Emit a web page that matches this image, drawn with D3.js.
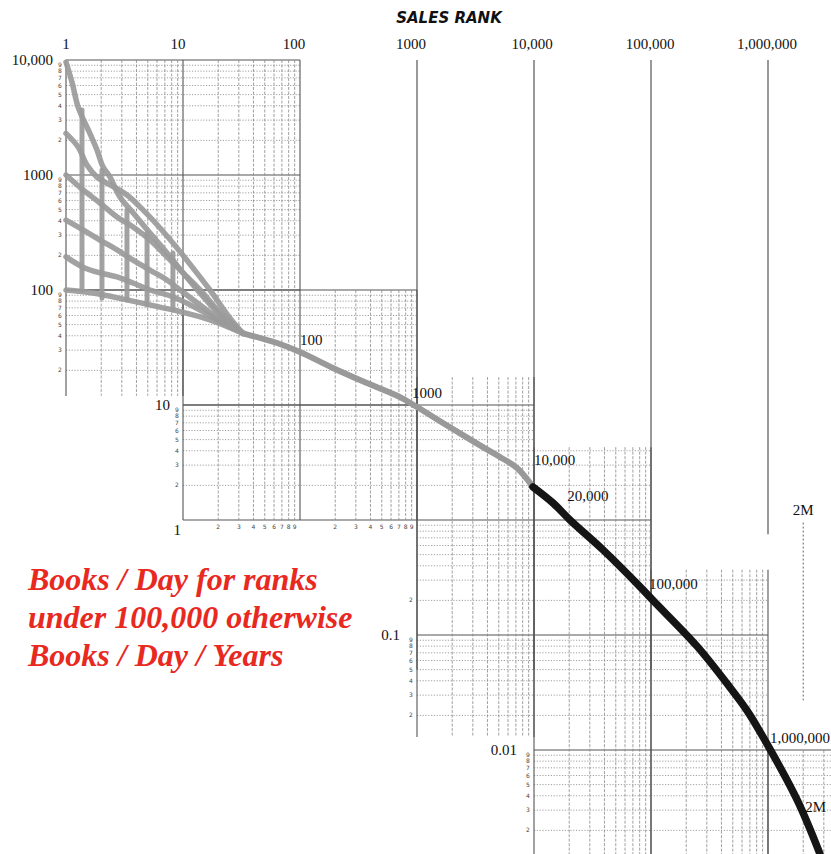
<!DOCTYPE html>
<html><head><meta charset="utf-8">
<script src="https://cdn.jsdelivr.net/npm/d3@7"></script>
<style>body{margin:0;background:#fff}svg{display:block}</style>
</head><body>
<svg id="c" width="831" height="854"></svg>
<script>
// ---------------- DATA ----------------
const topAxisRanks  = [1, 10, 100, 1000, 10000, 100000, 1000000];
const topAxisLabels = ["1", "10", "100", "1000", "10,000", "100,000", "1,000,000"];
const yAxisValues   = [10000, 1000, 100, 10, 1, 0.1, 0.01];
const yAxisLabels   = ["10,000", "1000", "100", "10", "1", "0.1", "0.01"];

// fan of curves for the top ranks: [sales rank, books per day]
const fan1 = [[1,9600],[1.13,6300],[1.27,3900],[1.6,2300],[1.84,1650],[2.07,1180],[2.38,960],[2.89,645],[3.74,470],[5.22,313],[7.3,210],[10,141],[14,94],[20.7,61],[32.6,42]];
const fan2 = [[1,2300],[1.27,1750],[1.51,1220],[1.84,960],[2.38,820],[3.32,670],[4.55,497],[6.36,346],[8.89,232],[12.2,155],[17,100],[25.2,57],[32.6,42]];
const fan3 = [[1,1000],[1.4,741],[1.95,571],[2.73,432],[3.74,353],[5.22,272],[7.3,194],[10,141],[14,100],[20.7,64],[32.6,42]];
const fan4 = [[1,406],[1.4,333],[1.95,272],[2.73,223],[3.74,182],[5.22,149],[7.3,122],[9.43,100],[14,74],[20.7,55],[32.6,42]];
const fan5 = [[1,194],[1.4,158],[1.95,141],[2.73,130],[3.74,115],[5.22,100],[8.22,87],[14,67],[20.7,53],[32.6,42]];
const fan6 = [[1,100],[1.7,94],[3.32,82],[6.36,71],[10,64],[17,55],[32.6,42]];
// vertical connectors in the fan: [rank, top value, bottom value]
const fanConnectors = [[1.37,3670,100],[2.03,1100,85],[3.32,497,82],[4.93,313,74],[8.2,210,67]];

// main curve: [sales rank, books per day]
const mainCurve = [[32.6,42],[63.6,34.6],[100,28.9],[191,21],[374,15.5],[716,11.7],[1000,9.6],[1914,6.4],[3664,4.3],[5120,3.53],[7161,2.83],[9800,1.94],[14500,1.41],[20300,1.0],[38900,0.55],[75900,0.28],[104000,0.2],[247000,0.08],[473000,0.035],[662000,0.022],[906000,0.013],[1770000,0.0037],[2780000,0.00125]];
const darkFromRank = 9800;

const curveLabelRanks = [100, 1000, 10000, 20000, 100000, 1000000, 2000000];
const curveLabels     = ["100", "1000", "10,000", "20,000", "100,000", "1,000,000", "2M"];

// pieces of log graph paper: rank range and value range
const paperX = [[1,100],[1,10],[10,1000],[10,1000],[1000,10000],[10000,100000],[100000,1000000],[1000000,10000000]];
const paperY = [[100,10000],[12,100],[10,100],[1,10],[0.013,17.5],[0.001,4.3],[0.001,0.37],[0.001,0.01]];
const tallRanks = [1000, 10000, 100000, 1000000];
const guideRank = 2000000, guideRange = [0.95, 0.027];

const noteLines = ["Books / Day for ranks", "under 100,000 otherwise", "Books / Day / Years"];
const title = "SALES RANK";

// ---------------- DRAW ----------------
const svg = d3.select("#c");
const x = d3.scaleLog().domain([1, 1e7]).range([66, 66 + 7 * 117]);
const y = d3.scaleLog().domain([1e4, 1e-3]).range([60, 60 + 7 * 115]);

const gGrid = svg.append("g");
function valuesIn(lo, hi) {
  const out = [];
  for (let k = -4; k <= 7; k++) for (let m = 1; m <= 9; m++) {
    const v = m * Math.pow(10, k);
    if (v >= lo * 0.9999 && v <= hi * 1.0001) out.push({v, m, major: m === 1});
  }
  return out;
}
paperX.forEach((xr, i) => {
  const yr = paperY[i];
  valuesIn(yr[0], yr[1]).forEach(d => {
    gGrid.append("line").attr("x1", x(xr[0])).attr("x2", x(xr[1]))
      .attr("y1", y(d.v)).attr("y2", y(d.v))
      .attr("stroke", d.major ? "#555" : "#888").attr("stroke-width", d.major ? 1.1 : 0.8)
      .attr("stroke-dasharray", d.major ? null : "1.2,1.6");
  });
  valuesIn(xr[0], xr[1]).forEach(d => {
    gGrid.append("line").attr("x1", x(d.v)).attr("x2", x(d.v))
      .attr("y1", y(yr[1])).attr("y2", y(yr[0]))
      .attr("stroke", d.major ? "#555" : "#888").attr("stroke-width", d.major ? 1.1 : 0.8)
      .attr("stroke-dasharray", d.major ? null : "3,1.5");
  });
});
tallRanks.forEach(r => {
  gGrid.append("line").attr("x1", x(r)).attr("x2", x(r))
    .attr("y1", y(1e4)).attr("y2", r === 1000000 ? y(0.75) : y(0.05))
    .attr("stroke", "#555").attr("stroke-width", 1.2);
});
gGrid.append("line").attr("x1", x(guideRank)).attr("x2", x(guideRank))
  .attr("y1", y(guideRange[0])).attr("y2", y(guideRange[1]))
  .attr("stroke", "#666").attr("stroke-width", 1).attr("stroke-dasharray", "2,2");

// tiny minor labels
const gMinor = svg.append("g").attr("font-family", "DejaVu Sans").attr("font-size", 6).attr("fill", "#444").attr("text-anchor", "middle");
function minorY(xPos, lo, hi, keep) {
  valuesIn(lo, hi).filter(d => !d.major && (!keep || keep.includes(d.m))).forEach(d => {
    gMinor.append("text").attr("x", xPos).attr("y", y(d.v) + 2).text(d.m);
  });
}
minorY(x(1) - 6, 12, 10000);
minorY(x(10) - 6, 1, 10);
minorY(x(1000) - 6, 0.11, 1, [2]);
minorY(x(1000) - 6, 0.011, 0.1);
minorY(x(10000) - 6, 0.0011, 0.01);
valuesIn(10, 1000).filter(d => !d.major).forEach(d => {
  gMinor.append("text").attr("x", x(d.v)).attr("y", y(1) + 9).text(d.m);
});

// curves
const line = d3.line().x(d => x(d[0])).y(d => y(d[1])).curve(d3.curveCatmullRom.alpha(0.5));
const gCurves = svg.append("g").attr("fill", "none").attr("stroke-linecap", "round").attr("stroke-linejoin", "round");
[fan1, fan2, fan3, fan4, fan5, fan6].forEach(f => {
  gCurves.append("path").attr("d", line(f)).attr("stroke", "#9a9a9a").attr("stroke-width", 5.5).attr("opacity", 0.92);
});
fanConnectors.forEach(c => {
  gCurves.append("line").attr("x1", x(c[0])).attr("x2", x(c[0])).attr("y1", y(c[1])).attr("y2", y(c[2]))
    .attr("stroke", "#9a9a9a").attr("stroke-width", 5).attr("opacity", 0.92);
});
gCurves.append("path").attr("d", line(mainCurve.filter(d => d[0] <= darkFromRank)))
  .attr("stroke", "#999").attr("stroke-width", 6);
gCurves.append("path").attr("d", line(mainCurve.filter(d => d[0] >= darkFromRank)))
  .attr("stroke", "#151515").attr("stroke-width", 7.5);

// axis labels
const serif = "Liberation Serif, Times New Roman, serif";
const topShift = [0, -5, -6, -6, -2, -1, -1];
svg.append("g").selectAll("text").data(topAxisRanks).join("text")
  .attr("x", (d, i) => x(d) + topShift[i]).attr("y", 49).attr("text-anchor", "middle")
  .attr("font-family", serif).attr("font-size", 15).attr("fill", "#111").text((d, i) => topAxisLabels[i]);
const yLabelX = [53, 53, 53, 170, 181, 400, 517];
const yLabelDy = [5, 5, 5, 5, 15, 5, 5];
svg.append("g").selectAll("text").data(yAxisValues).join("text")
  .attr("x", (d, i) => yLabelX[i]).attr("y", (d, i) => y(d) + yLabelDy[i]).attr("text-anchor", "end")
  .attr("font-family", serif).attr("font-size", 15).attr("fill", "#111").text((d, i) => yAxisLabels[i]);

// labels along the curve
function curveAt(r) {
  for (let i = 1; i < mainCurve.length; i++) {
    const a = mainCurve[i - 1], b = mainCurve[i];
    if (r <= b[0]) {
      const t = (Math.log(r) - Math.log(a[0])) / (Math.log(b[0]) - Math.log(a[0]));
      return Math.exp(Math.log(a[1]) + t * (Math.log(b[1]) - Math.log(a[1])));
    }
  }
  return mainCurve[mainCurve.length - 1][1];
}
const labelDx = [0, -5, 0, -2, -2, 2, 2];
const labelDy = [-7, -9, -23, -18, -9, -3, -2];
svg.append("g").selectAll("text").data(curveLabelRanks).join("text")
  .attr("x", (d, i) => x(d) + labelDx[i]).attr("y", (d, i) => y(curveAt(d)) + labelDy[i])
  .attr("font-family", serif).attr("font-size", 15).attr("fill", "#111").text((d, i) => curveLabels[i]);
svg.append("text").attr("x", x(guideRank)).attr("y", y(guideRange[0]) - 8).attr("text-anchor", "middle")
  .attr("font-family", serif).attr("font-size", 15).attr("fill", "#111").text("2M");

// title
svg.append("text").attr("x", 449).attr("y", 23).attr("text-anchor", "middle")
  .attr("font-family", "DejaVu Sans").attr("font-style", "italic").attr("font-weight", "bold").attr("font-size", 15)
  .attr("fill", "#111").text(title);

// note
svg.append("g").selectAll("text").data(noteLines).join("text")
  .attr("x", 28).attr("y", (d, i) => 590 + i * 38)
  .attr("font-family", serif).attr("font-style", "italic").attr("font-weight", "bold")
  .attr("font-size", 32).attr("fill", "#e8291f").text(d => d);
</script>
</body></html>
